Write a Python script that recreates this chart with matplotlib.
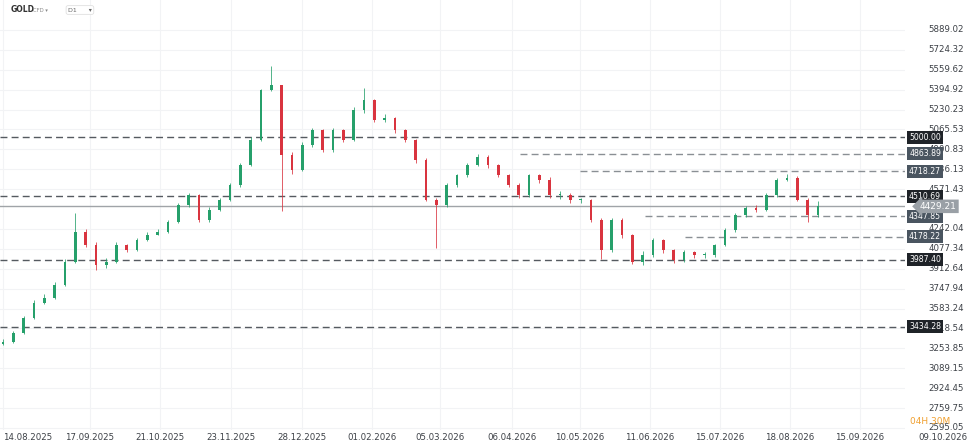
import matplotlib
matplotlib.use("Agg")
import matplotlib.pyplot as plt
from matplotlib.patches import Rectangle

closes = [3307,3381,3505,3630,3670,3778,3969,4217,4110,3944,3969,4110,4068,4151,4192,4217,4300,4440,4523,4316,
          4399,4482,4606,4772,4979,5392,5434,4855,4730,4937,5061,4896,5061,4979,5227,5310,5144,5161,5061,4979,
          4813,4482,4440,4606,4689,4772,4838,4772,4689,4606,4523,4689,4648,4523,4523,4482,4482,4316,4068,4316,
          4192,3969,4027,4151,4068,3985,4051,4027,4027,4110,4234,4358,4415,4399,4523,4648,4664,4482,4358,4429]
opens0 = 3290
highs = [3330,3400,3520,3650,3700,3800,3990,4374,4240,4130,4000,4130,4120,4170,4215,4240,4320,4460,4540,4530,
         4420,4500,4620,4790,5000,5400,5591,5430,4880,4960,5080,5070,5080,5070,5250,5409,5320,5190,5170,5070,
         4990,4830,4500,4620,4700,4790,4860,4850,4780,4700,4620,4700,4700,4670,4560,4540,4500,4490,4330,4330,
         4330,4200,4060,4170,4160,4080,4070,4060,4050,4120,4250,4370,4430,4440,4540,4660,4700,4680,4500,4470]
lows = [3285,3300,3375,3500,3625,3660,3770,3960,4090,3900,3920,3960,4050,4060,4140,4190,4210,4290,4420,4300,
        4300,4390,4470,4590,4760,4970,5380,4391,4700,4720,4920,4880,4880,4960,4970,5200,5130,5130,5040,4960,
        4790,4470,4085,4420,4590,4670,4760,4750,4670,4590,4500,4510,4620,4500,4490,4460,4460,4300,3990,4050,
        4170,3950,3940,4010,4040,3960,3970,4000,4000,4010,4100,4220,4340,4380,4390,4510,4640,4470,4300,4340]
date_labels = ["14.08.2025","17.09.2025","21.10.2025","23.11.2025","28.12.2025","01.02.2026","05.03.2026",
               "06.04.2026","10.05.2026","11.06.2026","15.07.2026","18.08.2026","15.09.2026","09.10.2026"]
date_px = [3,90,160,231,302,372,440,512,580,650,720,790,860,943]
price_ticks = [5889.02,5724.32,5559.62,5394.92,5230.23,5065.53,4900.83,4736.13,4571.43,4242.04,4077.34,
               3912.64,3747.94,3583.24,3418.54,3253.85,3089.15,2924.45,2759.75,2595.05]
levels = [5000.00,4863.89,4718.27,4510.69,4347.85,4178.22,3987.40,3434.28]
level_start_px = [0,520,580,0,645,685,0,0]
level_dark = [True,False,False,True,False,False,True,True]
current = 4429.21

W, H = 975, 446
fig = plt.figure(figsize=(W/100, H/100), dpi=100)
ax = fig.add_axes([0, 1-430/H, 905/W, 430/H])
n = len(closes)
step = (818-3)/(n-1)
def px2i(p): return (p-3)/step
xmax = px2i(905)
ax.set_xlim(px2i(0), xmax)
ax.set_ylim(2578, 6137)
for s in ax.spines.values(): s.set_visible(False)
ax.set_xticks([]); ax.set_yticks([])

for p in date_px:
    ax.axvline(px2i(p), color="#f2f3f5", lw=0.8, zorder=0)
for t in price_ticks:
    ax.axhline(t, color="#f2f3f5", lw=0.8, zorder=0)

prev = opens0
for i, c in enumerate(closes):
    o = prev
    col = "#26a06b" if c >= o else "#d9343f"
    ax.vlines(i, lows[i], highs[i], color=col, lw=0.7, alpha=0.8, zorder=3)
    ax.add_patch(Rectangle((i-0.13, min(o, c)), 0.26, max(abs(c-o), 6), color=col, zorder=4, lw=0))
    prev = c

for lv, sp, dk in zip(levels, level_start_px, level_dark):
    ax.plot([px2i(sp), xmax], [lv, lv], color="#555a60" if dk else "#8a8f94",
            lw=1.0, ls=(0, (5, 3)), zorder=2)
ax.axhline(current, color="#a0a4a8", lw=1.0, zorder=2)

for t in price_ticks:
    fig.text(946/W, ax.transData.transform((0, t))[1]/H, f"{t:.2f}", fontsize=6.2,
             color="#3c4046", ha="center", va="center")
for lv, dk in zip(levels, level_dark):
    y = ax.transData.transform((0, lv))[1]/H
    fig.text(925/W, y, f"{lv:.2f}", fontsize=5.6, color="white", ha="center", va="center", zorder=5,
             bbox=dict(boxstyle="square,pad=0.25", fc="#1f2328" if dk else "#4a5560", ec="none"))
y = ax.transData.transform((0, current))[1]/H
fig.text(938/W, y, f"{current:.2f}", fontsize=6.5, color="white", ha="center", va="center", zorder=6,
         bbox=dict(boxstyle="larrow,pad=0.25", fc="#9aa0a6", ec="none"))

for lab, p in zip(date_labels, date_px):
    ha = "left" if p < 20 else "center"
    fig.text(p/W, 1-437/H, lab, fontsize=6.2, color="#3c4046", ha=ha, va="center")
fig.text(930/W, 1-422/H, "04H 30M", fontsize=6.5, color="#f0a030", ha="center", va="center")
fig.text(11/W, 1-10/H, "GOLD", fontsize=5.5, color="#333", fontweight="bold", va="center")
fig.text(33/W, 1-10/H, "CFD \u25be", fontsize=3.8, color="#888", va="center")
fig.text(68/W, 1-10/H, "D1      \u25be", fontsize=4.5, color="#666", va="center",
         bbox=dict(boxstyle="round,pad=0.3", fc="white", ec="#e0e0e0", lw=0.6))
fig.savefig("out.png", dpi=100)
